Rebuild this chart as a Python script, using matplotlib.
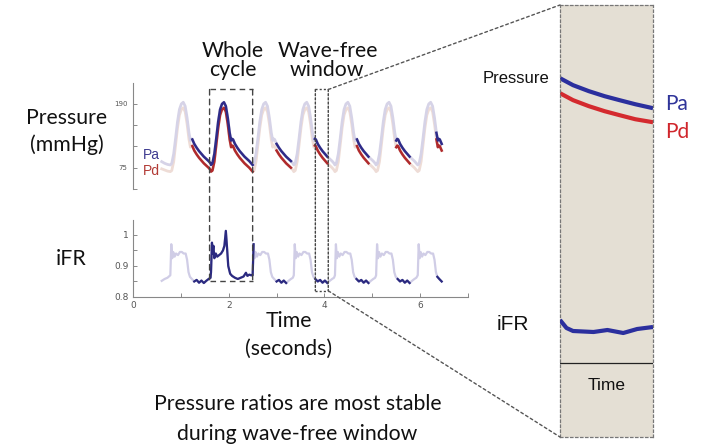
import numpy as np
import matplotlib.pyplot as plt
from matplotlib.patches import ConnectionPatch

# ---- data ----
# beat feet (start of upstroke), seconds
beat_feet = [0.78, 1.63, 2.50, 3.36, 4.22, 5.08, 5.95]
trace_end = 6.46
cycle_beat = 1  # the "whole cycle" beat

# trace before the first foot
lead_t = [0.60, 0.66, 0.72]
lead_pa = [86, 83, 81]
lead_pd = [73, 71, 69]
lead_ifr = [0.852, 0.858, 0.862]

# one beat of pressure (offset from foot in s, mmHg)
beat_off = [0, 0.03, 0.07, 0.11, 0.15, 0.19, 0.23, 0.27, 0.31, 0.35, 0.39, 0.42,
            0.44, 0.46, 0.50, 0.55, 0.60, 0.65, 0.70, 0.75, 0.80, 0.84]
beat_pa = [80, 83, 100, 128, 158, 180, 190, 193, 186, 165, 138, 124,
           127, 126, 118, 111, 105, 100, 95, 91, 87, 83]
beat_pd = [68, 70, 86, 116, 147, 170, 180, 183, 176, 154, 126, 112,
           115, 114, 106, 99, 93, 88, 83, 79, 75, 71]

# one beat of iFR
ifr_off = [0, 0.02, 0.04, 0.06, 0.09, 0.12, 0.16, 0.20, 0.24, 0.28, 0.32, 0.35,
           0.38, 0.41, 0.45, 0.50, 0.55, 0.60, 0.65, 0.70, 0.75, 0.80, 0.84]
ifr_val = [0.87, 0.97, 0.925, 0.945, 0.93, 0.94, 0.935, 0.945, 0.945, 0.94, 0.94, 0.92,
           0.88, 0.865, 0.858, 0.850, 0.855, 0.846, 0.853, 0.845, 0.852, 0.858, 0.862]
# iFR of the whole-cycle beat
cycle_ifr_off = [0, 0.02, 0.03, 0.05, 0.07, 0.10, 0.13, 0.17, 0.21, 0.25, 0.28, 0.31,
                 0.33, 0.36, 0.40, 0.44, 0.50, 0.56, 0.62, 0.68, 0.73, 0.76, 0.80, 0.84, 0.86]
cycle_ifr_val = [0.88, 0.975, 0.94, 0.965, 0.925, 0.94, 0.93, 0.935, 0.94, 0.95, 0.965, 1.013,
                 0.97, 0.90, 0.875, 0.868, 0.862, 0.858, 0.862, 0.866, 0.878, 0.868, 0.872, 0.87, 0.87]

# highlighted stretches
p_dark = [(1.23, 2.50), (3.00, 3.33), (3.79, 4.08), (4.67, 4.94), (5.50, 5.79), (6.33, 6.46)]
i_dark = [(1.25, 2.52), (3.00, 3.23), (3.79, 4.08), (4.67, 4.92), (5.52, 5.79), (6.35, 6.46)]

whole_cycle = (1.60, 2.50)
wave_free = (3.81, 4.08)

# zoomed wave-free window
zoom_x = [0, 0.14, 0.31, 0.48, 0.64, 0.81, 1.0]
zoom_pa = [114, 108.2, 103.2, 99, 95.7, 92.3, 89]
zoom_pd = [101.5, 95.7, 90.7, 86.5, 83.2, 79.8, 77.3]
zoom_ifr_x = [0, 0.07, 0.14, 0.36, 0.51, 0.68, 0.83, 1.0]
zoom_ifr = [0.860, 0.852, 0.849, 0.848, 0.850, 0.847, 0.851, 0.853]


def build(off, val, lead, special=None):
    t, v = list(lead_t), list(lead)
    for k, f in enumerate(beat_feet):
        o, y = (special if (special and k == cycle_beat) else (off, val))
        for a, b in zip(o, y):
            if f + a <= trace_end:
                t.append(f + a)
                v.append(b)
    return np.array(t), np.array(v)


def stretch(t, v, windows):
    keep = np.zeros(len(t), bool)
    for a, b in windows:
        keep |= (t >= a - 0.005) & (t <= b + 0.005)
    return np.where(keep, v, np.nan)


t_p, pa = build(beat_off, beat_pa, lead_pa)
_, pd_ = build(beat_off, beat_pd, lead_pd)
t_i, ifr = build(ifr_off, ifr_val, lead_ifr, (cycle_ifr_off, cycle_ifr_val))

W, H = 713, 446
fig = plt.figure(figsize=(W / 100, H / 100), dpi=100)


def px_axes(l, t, r, b):
    return fig.add_axes([l / W, 1 - b / H, (r - l) / W, (b - t) / H])


def ftext(x, y, s, **kw):
    fig.text(x / W, 1 - y / H, s, **kw)


calibri = dict(family='Lato', va='baseline')
big = dict(fontsize=15.3, color='#111111', **calibri)
helv = dict(family='Liberation Sans', va='baseline')

# pressure panel
ax_p = px_axes(133, 83, 468, 189)
ax_p.plot(t_p, pd_, color='#eedcd6', lw=2.0)
ax_p.plot(t_p, pa, color='#d6d3e7', lw=2.0)
ax_p.plot(t_p, stretch(t_p, pd_, p_dark), color='#b02a2c', lw=1.8)
ax_p.plot(t_p, stretch(t_p, pa, p_dark), color='#2e2b88', lw=1.8)
ax_p.set_xlim(0, 7)
ax_p.set_ylim(36.7, 227.7)
ax_p.set_xticks([])
ax_p.set_yticks([36.7, 75, 113.3, 151.7, 190])
ax_p.set_yticklabels(['', '75', '', '', '190'])
ax_p.tick_params(axis='y', direction='in', length=3, width=0.6, color='#777777',
                 labelsize=5, labelcolor='#555555', pad=4)
for s in ['top', 'right', 'bottom']:
    ax_p.spines[s].set_visible(False)
ax_p.spines['left'].set_color('#888888')
ax_p.spines['left'].set_linewidth(0.8)
ax_p.patch.set_alpha(0)

# iFR panel
ax_i = px_axes(133, 220, 468, 297)
ax_i.plot(t_i, ifr, color='#d0cde6', lw=1.6)
ax_i.plot(t_i, stretch(t_i, ifr, i_dark), color='#2b2a80', lw=1.6)
ax_i.set_xlim(0, 7)
ax_i.set_ylim(0.8, 1.048)
ax_i.set_xticks(range(8))
ax_i.set_xticklabels(['0', '', '2', '', '4', '', '6', ''])
ax_i.set_yticks([0.8, 0.85, 0.9, 0.95, 1.0])
ax_i.set_yticklabels(['0.8', '', '0.9', '', '1'])
ax_i.tick_params(direction='in', length=3, width=0.6, color='#777777',
                 labelsize=6.5, labelcolor='#555555', pad=3)
for s in ['top', 'right']:
    ax_i.spines[s].set_visible(False)
for s in ['left', 'bottom']:
    ax_i.spines[s].set_color('#888888')
    ax_i.spines[s].set_linewidth(0.8)
ax_i.patch.set_alpha(0)

# zoom panel
ax_z = px_axes(560, 5, 653, 437)
ax_z.set_facecolor('#e4dfd4')
ax_z.plot(zoom_x, zoom_pa, color='#2b2f9e', lw=3, solid_capstyle='butt')
ax_z.plot(zoom_x, zoom_pd, color='#d42a2e', lw=3, solid_capstyle='butt')
ax_z.set_xlim(0, 1)
ax_z.set_ylim(-185, 175)
ax_z.set_xticks([])
ax_z.set_yticks([])
for s in ax_z.spines.values():
    s.set_linestyle((0, (2, 2)))
    s.set_color('#777777')
    s.set_linewidth(0.9)
ax_z.plot([0, 1], [0.171, 0.171], transform=ax_z.transAxes, color='#222222', lw=0.9)
ax_z.text(0.5, 0.109, 'Time', transform=ax_z.transAxes, ha='center', fontsize=12.5,
          color='#111111', **helv)

ax_zi = px_axes(560, 300, 653, 350)
ax_zi.plot(zoom_ifr_x, zoom_ifr, color='#2b2f9e', lw=3, solid_capstyle='butt')
ax_zi.set_xlim(0, 1)
ax_zi.set_ylim(0.83, 0.88)
ax_zi.axis('off')

# dashed boxes
dash = dict(color='#444444', lw=1.0, linestyle=(0, (4, 3)))
dot = dict(color='#444444', lw=1.0, linestyle=(0, (1.5, 1.5)))
box_top, cyc_bot, wf_bot = 216, 0.852, 0.82
for (a, b), style, bot in [(whole_cycle, dash, cyc_bot), (wave_free, dot, wf_bot)]:
    ax_p.plot([a, b], [box_top, box_top], clip_on=False, **style)
    ax_i.plot([a, b], [bot, bot], clip_on=False, **style)
    for x in (a, b):
        fig.add_artist(ConnectionPatch(xyA=(x, box_top), coordsA=ax_p.transData,
                                       xyB=(x, bot), coordsB=ax_i.transData, **style))

# connectors to the zoom panel
conn = dict(color='#555555', lw=1.0, linestyle=(0, (2, 2)))
fig.add_artist(ConnectionPatch(xyA=(wave_free[1], box_top), coordsA=ax_p.transData,
                               xyB=(0, 1), coordsB=ax_z.transAxes, **conn))
fig.add_artist(ConnectionPatch(xyA=(wave_free[1], wf_bot), coordsA=ax_i.transData,
                               xyB=(0, 0), coordsB=ax_z.transAxes, **conn))

# labels
ftext(233, 57, 'Whole', ha='center', **big)
ftext(233, 76, 'cycle', ha='center', **big)
ftext(328, 57, 'Wave-free', ha='center', **big)
ftext(327, 76, 'window', ha='center', **big)
ftext(67, 124, 'Pressure', ha='center', **big)
ftext(67, 151, '(mmHg)', ha='center', **big)
ftext(71, 265, 'iFR', ha='center', **big)
ftext(289, 327, 'Time', ha='center', **big)
ftext(289, 355, '(seconds)', ha='center', **big)
ftext(298, 410, 'Pressure ratios are most stable', ha='center', **big)
ftext(297, 440, 'during wave-free window', ha='center', **big)

ftext(143, 159, 'Pa', ha='left', fontsize=10, color='#3d3a90', **helv)
ftext(143, 175, 'Pd', ha='left', fontsize=10, color='#b23a35', **helv)

ftext(516, 83, 'Pressure', ha='center', fontsize=12, color='#111111', **helv)
ftext(665, 110, 'Pa', ha='left', fontsize=15, color='#2f3499', **calibri)
ftext(665, 138, 'Pd', ha='left', fontsize=15, color='#d0262c', **calibri)
ftext(497, 330, 'iFR', ha='left', fontsize=15, color='#111111', **helv)

fig.savefig('out.png', dpi=100)
